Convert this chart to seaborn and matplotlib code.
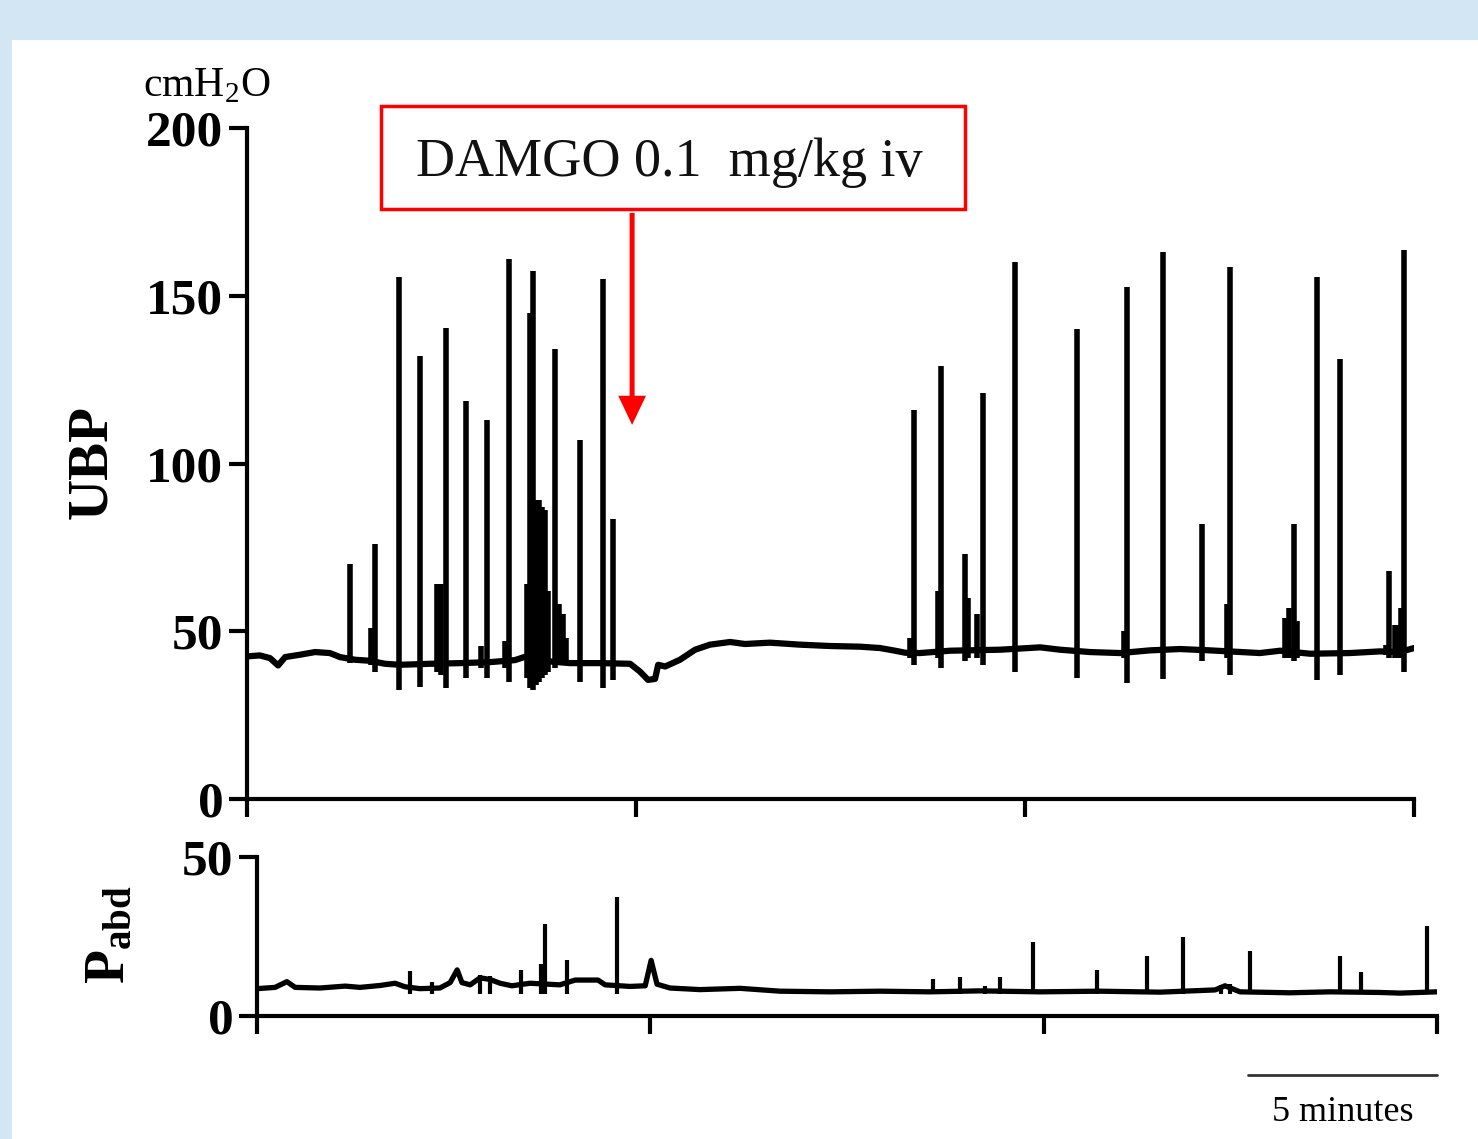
import matplotlib
matplotlib.use("Agg")
import matplotlib.pyplot as plt
import seaborn as sns
import pandas as pd
from matplotlib.patches import Rectangle

# ---- UBP (top trace), time in minutes, pressure in cmH2O ----
ubp_base_t = [0.0, 0.33, 0.59, 0.80, 0.98, 1.36, 1.75, 2.13, 2.39, 2.78, 3.16, 3.55, 3.93,
              4.70, 5.48, 6.25, 6.89, 7.15, 7.79, 8.30, 9.07, 9.85, 10.10, 10.31, 10.49,
              10.57, 10.75, 11.13, 11.52, 11.90, 12.42, 12.80, 13.44, 14.22, 14.99, 15.76,
              16.27, 16.66, 16.92, 17.30, 18.07, 19.36, 20.39, 20.90, 21.67, 22.44, 23.21,
              23.98, 24.76, 26.04, 26.56, 27.33, 28.35, 29.13, 29.64, 30.0]
ubp_base_v = [42.5, 42.8, 42.0, 39.8, 42.3, 43.0, 43.8, 43.5, 42.3, 41.5, 41.2, 40.3, 40.0,
              40.3, 40.5, 40.8, 41.4, 42.4, 41.0, 40.5, 40.5, 40.3, 38.0, 35.5, 35.8,
              40.0, 39.5, 41.5, 44.5, 46.0, 46.8, 46.2, 46.6, 46.0, 45.6, 45.4,
              45.0, 44.2, 43.6, 43.5, 44.2, 44.5, 45.2, 44.5, 43.8, 43.5, 44.3,
              44.7, 44.3, 43.5, 44.2, 43.3, 43.5, 44.0, 43.8, 45.0]

ubp_spike_t = [2.65, 3.19, 3.29, 3.91, 4.45, 4.88, 4.99, 5.12, 5.63, 6.02, 6.17, 6.63, 6.74,
               7.20, 7.28, 7.35, 7.43, 7.51, 7.58, 7.66, 7.74, 7.92, 8.02, 8.12, 8.20, 8.56,
               9.15, 9.41,
               17.04, 17.15, 17.76, 17.84, 18.46, 18.53, 18.77, 18.92, 19.74, 21.34, 22.55,
               22.62, 23.55, 24.55, 25.19, 25.27, 26.68, 26.79, 26.92, 27.00, 27.51, 28.10,
               29.28, 29.36, 29.51, 29.61, 29.67, 29.74]
ubp_spike_peak = [70, 51, 76, 155.5, 132, 64, 64, 140.5, 118.5, 45.5, 113, 47, 161,
                  64, 145, 157.5, 89, 89, 87, 86, 62, 134, 58, 55, 48, 107,
                  155, 83.5,
                  48, 116, 62, 129, 73, 60, 55, 121, 160, 140, 50,
                  152.5, 163, 82, 58, 158.5, 54, 57, 82, 53, 155.5, 131,
                  46, 68, 52, 52, 57, 163.5]
ubp_spike_dip = [40.5, 40, 38, 32.5, 33.5, 38, 37, 33, 36, 39, 36, 39, 35,
                 36, 33, 32.5, 34, 35, 36, 37, 38, 39, 40, 40, 40, 35,
                 33, 35.5,
                 42, 40, 42, 39, 41, 42, 42, 40, 38, 36, 42,
                 34.7, 35.7, 41, 42, 37, 42, 42, 41, 42, 35.5, 37,
                 43, 42, 42, 42, 42, 38]

# ---- Pabd (bottom trace) ----
pabd_base_t = [0.0, 0.46, 0.76, 0.97, 1.60, 2.24, 2.62, 3.13, 3.51, 3.76, 4.14, 4.65, 4.91,
               5.09, 5.21, 5.42, 5.67, 5.92, 6.18, 6.48, 6.94, 7.70, 8.09, 8.67, 8.85, 9.48,
               9.87, 10.02, 10.17, 10.50, 11.26, 12.28, 13.30, 14.57, 15.84, 17.11, 18.38,
               19.91, 21.43, 22.96, 24.36, 24.61, 24.99, 26.26, 27.28, 28.55, 29.06, 30.0]
pabd_base_v = [8.6, 9.0, 10.8, 9.0, 8.8, 9.4, 9.0, 9.6, 10.3, 9.2, 8.6, 8.8, 10.5,
               14.5, 10.5, 9.8, 12.0, 11.5, 10.3, 9.5, 10.3, 9.8, 11.3, 11.3, 9.8, 9.3,
               9.5, 17.5, 10.0, 8.8, 8.3, 8.7, 7.8, 7.6, 7.8, 7.6, 7.9,
               7.6, 7.8, 7.5, 8.2, 9.5, 7.6, 7.3, 7.6, 7.4, 7.2, 7.6]

pabd_spike_t = [3.89, 4.45, 5.67, 5.92, 6.71, 7.22, 7.32, 7.88, 9.15,
                17.19, 17.87, 18.51, 18.89, 19.73, 21.36, 22.63, 23.54, 24.51, 24.74,
                25.25, 27.54, 28.07, 29.75]
pabd_spike_peak = [14, 10.8, 12.8, 12.5, 14.5, 16.4, 29, 17.7, 37.5,
                   11.6, 12.4, 9.5, 12.4, 23.2, 14.5, 18.9, 24.7, 9.8, 10.2,
                   20.5, 18.9, 13.8, 28.2]

ubp_ticks = [0, 50, 100, 150, 200]
pabd_ticks = [0, 50]
time_ticks = [0, 10, 20, 30]

W, H = 1478, 1139
sns.set_style("ticks")
plt.rcParams['font.family'] = ['Liberation Serif', 'DejaVu Serif']
plt.rcParams['mathtext.fontset'] = 'custom'
plt.rcParams['mathtext.rm'] = 'Liberation Serif'
plt.rcParams['mathtext.bf'] = 'Liberation Serif:bold'
for key in ('text.color', 'axes.labelcolor', 'xtick.color', 'ytick.color', 'axes.edgecolor'):
    plt.rcParams[key] = 'black'

fig = plt.figure(figsize=(W / 100, H / 100), dpi=100, facecolor='#D2E6F4')
fig.patches.append(Rectangle((12 / W, 0), 1, 1 - 40 / H, transform=fig.transFigure,
                             facecolor='white', edgecolor='none', zorder=-5))


def px_axes(x0, x1, y_top, y_bot):
    return fig.add_axes([x0 / W, 1 - y_bot / H, (x1 - x0) / W, (y_bot - y_top) / H])


ax = px_axes(247, 1414, 128, 799)
ax2 = px_axes(257, 1437, 857, 1016)
for a in (ax, ax2):
    a.set_facecolor('none')

ubp_df = pd.DataFrame({'t': ubp_base_t, 'v': ubp_base_v})
pabd_df = pd.DataFrame({'t': pabd_base_t, 'v': pabd_base_v})

sns.lineplot(data=ubp_df, x='t', y='v', ax=ax, color='black', lw=4.5)
ax.vlines(ubp_spike_t, ubp_spike_dip, ubp_spike_peak, color='black', lw=4)

sns.lineplot(data=pabd_df, x='t', y='v', ax=ax2, color='black', lw=3.8)
ax2.vlines(pabd_spike_t, 7, pabd_spike_peak, color='black', lw=3)

ax.set_xlim(0, 30)
ax.set_ylim(0, 200)
ax2.set_xlim(0, 30)
ax2.set_ylim(0, 50)
ax.set_yticks(ubp_ticks)
ax2.set_yticks(pabd_ticks)

for a in (ax, ax2):
    sns.despine(ax=a)
    a.set_xticks(time_ticks)
    a.tick_params(axis='x', labelbottom=False, length=13, width=3, direction='out')
    a.tick_params(axis='y', length=13, width=3, pad=4, labelsize=37, direction='out')
    for sp in ('left', 'bottom'):
        a.spines[sp].set_linewidth(3)
    for lab in a.get_yticklabels():
        lab.set_fontweight('bold')
    a.set_xlabel('')
    a.set_ylabel('')

# axis titles
fig.text(143 / W, 1 - 96 / H, r'cmH$_\mathrm{2}$O', fontsize=30, ha='left', va='baseline')
fig.text(92 / W, 1 - 462 / H, 'UBP', fontsize=41, fontweight='bold', rotation=90,
         ha='center', va='center')
fig.text(110 / W, 1 - 935 / H, r'$\mathbf{P_{abd}}$', fontsize=40, rotation=90,
         ha='center', va='center')

# injection marker
ax.add_patch(Rectangle((3.445, 175.9), 15.015, 30.7, fill=False, edgecolor='#FF0000',
                       lw=2.5, clip_on=False))
ax.text(10.85, 189.5, 'DAMGO 0.1  mg/kg iv', fontsize=39, ha='center', va='center',
        color='#111111')
ax.annotate('', xy=(9.9, 111.5), xytext=(9.9, 174.7),
            arrowprops=dict(facecolor='#FF0000', edgecolor='none', width=3.6,
                            headwidth=20, headlength=21, shrink=0),
            annotation_clip=False)

# time scale bar
ax2.plot([25.2, 30], [-18.5, -18.5], color='#333333', lw=2, clip_on=False)
ax2.text(27.6, -30.5, '5 minutes', fontsize=26, ha='center', va='center')

fig.savefig('out.png', dpi=100, facecolor=fig.get_facecolor())
